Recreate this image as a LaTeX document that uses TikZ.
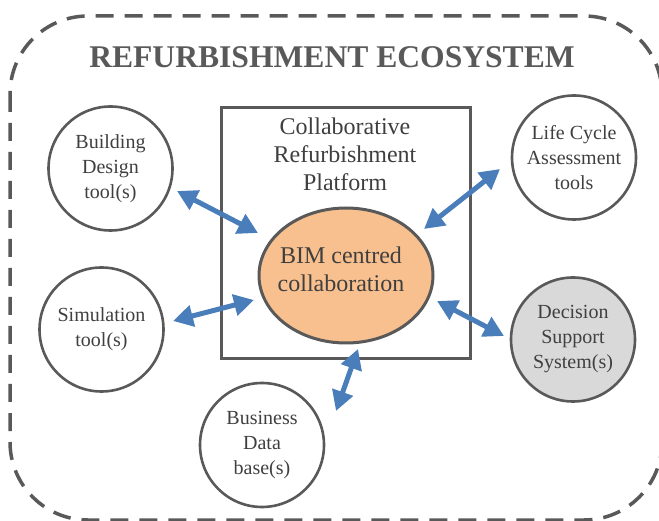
\documentclass[tikz,border=0pt]{standalone}
\usepackage{fontspec}
\setmainfont{Liberation Serif}
\usetikzlibrary{arrows.meta,shapes.geometric}
\definecolor{edgegray}{HTML}{595959}
\definecolor{txtgray}{HTML}{3F3F3F}
\definecolor{arrowblue}{HTML}{4A7EBB}
\definecolor{peach}{HTML}{F9C08F}
\definecolor{dssgray}{HTML}{D9D9D9}
\tikzset{
  toolnode/.style={circle, draw=edgegray, line width=2.6pt, minimum size=124pt, inner sep=0pt,
    align=center, text=txtgray, font=\fontsize{20}{25}\selectfont},
  link/.style={draw=arrowblue, line width=5pt,
    {Triangle[width=21pt,length=20pt]}-{Triangle[width=21pt,length=20pt]}},
  frame/.style={draw=edgegray, line width=3.5pt, dash pattern=on 18pt off 11pt, rounded corners=78pt},
}
\begin{document}
\begin{tikzpicture}[x=1pt,y=-1pt]
\useasboundingbox (0,0) rectangle (659,521);
\clip (0,0) rectangle (659,521);
% outer ecosystem frame
\draw[frame] (10,16) rectangle (662,520);
\node[font=\fontsize{31.6}{36}\selectfont\bfseries, text=edgegray] (title) at (332,57) {REFURBISHMENT ECOSYSTEM};
% platform box
\node[draw=edgegray, line width=3pt, minimum width=249pt, minimum height=251pt, inner sep=0pt] (platform) at (345.5,233.5) {};
\node[align=center, text=txtgray, font=\fontsize{24}{28}\selectfont] (ptext) at (345,154) {Collaborative\\Refurbishment\\Platform};
% BIM ellipse
\node[ellipse, draw=edgegray, fill=peach, line width=3pt, minimum width=174pt, minimum height=135pt, inner sep=0pt] (bim) at (346,275.5) {};
\node[align=center, text=txtgray, font=\fontsize{24}{28}\selectfont] (bimtext) at (341,269) {BIM centred\\collaboration};
% tools
\node[toolnode] (bdt) at (110.5,168.5) {Building\\Design\\tool(s)};
\node[toolnode] (sim) at (101.5,329.5) {Simulation\\tool(s)};
\node[toolnode] (lca) at (574,157.5) {Life Cycle\\Assessment\\tools};
\node[toolnode, fill=dssgray] (dss) at (573,339.5) {Decision\\Support\\System(s)};
\node[toolnode] (bdb) at (262,445) {Business\\Data\\base(s)};
% arrow end points
\coordinate (bdtA) at (177,191);
\coordinate (bdtB) at (258,233);
\coordinate (simA) at (173,321);
\coordinate (simB) at (254,300);
\coordinate (lcaA) at (500,169);
\coordinate (lcaB) at (424,229);
\coordinate (dssA) at (437,301);
\coordinate (dssB) at (504,336);
\coordinate (bdbA) at (358,349);
\coordinate (bdbB) at (336,411);
\draw[link] (bdtA) -- (bdtB);
\draw[link] (simA) -- (simB);
\draw[link] (lcaA) -- (lcaB);
\draw[link] (dssA) -- (dssB);
\draw[link] (bdbA) -- (bdbB);
\end{tikzpicture}
\end{document}
